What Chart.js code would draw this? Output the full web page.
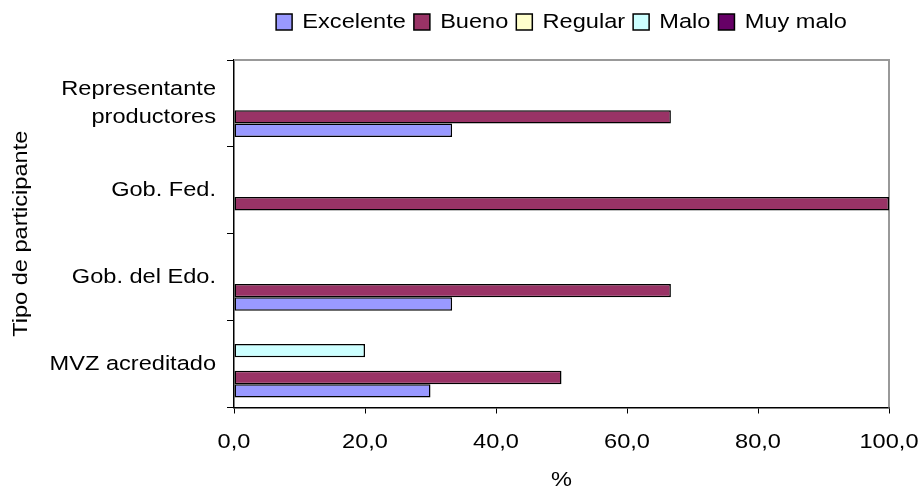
<!DOCTYPE html>
<html>
<head>
<meta charset="utf-8">
<script src="https://cdn.jsdelivr.net/npm/chart.js@4.4.1/dist/chart.umd.min.js"></script>
<style>
  html, body { margin: 0; padding: 0; background: #ffffff; overflow: hidden; }
  #wrap { width: 920px; height: 491px; }
</style>
</head>
<body>
<div id="wrap"><canvas id="c" width="920" height="491"></canvas></div>
<script>
// ---- data (categories listed top to bottom) ----
const categories = [['Representante', 'productores'], 'Gob. Fed.', 'Gob. del Edo.', 'MVZ acreditado'];
const seriesNames = ['Excelente', 'Bueno', 'Regular', 'Malo', 'Muy malo'];
const excelente = [33.3, 0, 33.3, 30];
const bueno     = [66.7, 100, 66.7, 50];
const regular   = [0, 0, 0, 0];
const malo      = [0, 0, 0, 20];
const muyMalo   = [0, 0, 0, 0];
const xTickLabels = ['0,0', '20,0', '40,0', '60,0', '80,0', '100,0'];
const xTitle = '%';
const yTitle = 'Tipo de participante';

const seriesValues = [excelente, bueno, regular, malo, muyMalo];
const seriesColors = ['#9999FF', '#993366', '#FFFFCC', '#CCFFFF', '#660066'];

// Excel draws the first series at the bottom of each group; Chart.js puts dataset 0 on top,
// so datasets are added in reverse and the legend is reversed back.
const datasets = seriesNames.map((name, i) => ({
  label: name,
  data: seriesValues[i],
  backgroundColor: seriesColors[i],
  borderColor: '#000000',
  borderWidth: 1.5,
  borderSkipped: false
})).reverse();

const FS = 20.5;
Chart.defaults.font.family = '"Liberation Sans", Arial, sans-serif';
Chart.defaults.font.size = FS;
Chart.defaults.color = '#000000';

// The reference renders its Arial text wide (GDI-style); widen glyphs along the reading direction.
const canvas = document.getElementById('c');
const ctx2d = canvas.getContext('2d');
const WIDEN = 1.15;
const protoFill = CanvasRenderingContext2D.prototype.fillText;
const protoMeasure = CanvasRenderingContext2D.prototype.measureText;
ctx2d.fillText = function (text, x, y, maxWidth) {
  this.save();
  this.translate(x, y);
  this.scale(WIDEN, 1);
  if (maxWidth === undefined) protoFill.call(this, text, 0, 0);
  else protoFill.call(this, text, 0, 0, maxWidth / WIDEN);
  this.restore();
};
ctx2d.measureText = function (text) {
  const m = protoMeasure.call(this, text);
  return {
    width: m.width * WIDEN,
    actualBoundingBoxLeft: m.actualBoundingBoxLeft * WIDEN,
    actualBoundingBoxRight: m.actualBoundingBoxRight * WIDEN,
    actualBoundingBoxAscent: m.actualBoundingBoxAscent,
    actualBoundingBoxDescent: m.actualBoundingBoxDescent,
    fontBoundingBoxAscent: m.fontBoundingBoxAscent,
    fontBoundingBoxDescent: m.fontBoundingBoxDescent
  };
};

const plotFrame = {
  id: 'plotFrame',
  beforeDatasetsDraw(chart) {
    const { ctx, chartArea: a } = chart;
    ctx.save();
    ctx.strokeStyle = '#999999';
    ctx.lineWidth = 2;
    ctx.beginPath();
    ctx.moveTo(a.left, a.top);
    ctx.lineTo(a.right, a.top);
    ctx.lineTo(a.right, a.bottom);
    ctx.stroke();
    ctx.restore();
  }
};

const legendOverPlot = {
  id: 'legendOverPlot',
  afterLayout(chart) {
    const lg = chart.legend, a = chart.chartArea;
    if (lg && a) {
      lg.left = a.left;
      lg.right = a.right;
      lg.width = a.right - a.left;
      if (lg.adjustHitBoxes) lg.adjustHitBoxes();
    }
  }
};

new Chart(canvas, {
  type: 'bar',
  data: { labels: categories, datasets: datasets },
  plugins: [plotFrame, legendOverPlot],
  options: {
    indexAxis: 'y',
    responsive: false,
    animation: false,
    devicePixelRatio: 1,
    layout: { padding: { top: 3.75, right: 31, bottom: 0, left: 0 } },
    datasets: { bar: { categoryPercentage: 0.77, barPercentage: 1 } },
    plugins: {
      legend: {
        position: 'top',
        reverse: true,
        labels: { boxWidth: 16, boxHeight: 16, padding: 8, font: { size: FS } }
      },
      subtitle: {
        display: true,
        text: '',
        weight: 500,
        font: { size: 1, lineHeight: 1 },
        padding: { top: 0, bottom: 16.75 }
      },
      tooltip: { enabled: false }
    },
    scales: {
      x: {
        type: 'linear',
        min: 0,
        max: 100,
        ticks: {
          stepSize: 20,
          padding: 0,
          font: { size: FS, lineHeight: 2.78 },
          callback: (v, i) => xTickLabels[i]
        },
        grid: { drawOnChartArea: false, drawTicks: true, tickLength: 6, color: '#000000', lineWidth: 1 },
        border: { display: true, color: '#000000', width: 1.5 },
        title: { display: true, text: xTitle, font: { size: FS, lineHeight: 1 }, padding: { top: 0, bottom: 0 } },
        afterFit(scale) { scale.height = 83.5; }
      },
      y: {
        type: 'category',
        offset: true,
        ticks: { padding: 11, font: { size: FS, lineHeight: 1.39 } },
        grid: { offset: true, drawOnChartArea: false, drawTicks: true, tickLength: 7, color: '#000000', lineWidth: 1 },
        border: { display: true, color: '#000000', width: 1.5 },
        title: { display: true, text: yTitle, font: { size: FS }, padding: { top: 8.7, bottom: 0 } },
        afterFit(scale) { scale.width = 234; }
      }
    }
  }
});
</script>
</body>
</html>
